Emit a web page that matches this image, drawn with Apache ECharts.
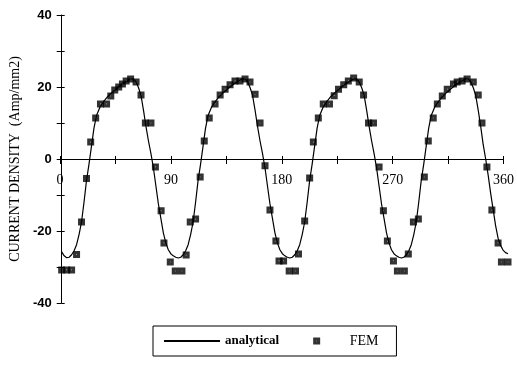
<!DOCTYPE html>
<html><head><meta charset="utf-8">
<script src="https://cdn.jsdelivr.net/npm/echarts@6/dist/echarts.min.js"></script>
<style>html,body{margin:0;padding:0;background:#fff}#c{width:517px;height:367px}</style>
</head><body><div id="c"></div>
<script>
const xTickLabels = [0, 90, 180, 270, 360];
const yTickLabels = [-40, -20, 0, 20, 40];

const lineDeg = [
  0,2,4,6,8,10,12,14,16,18,20,22,24,26,28,31,34,37,40,44,48,52,56,58,60,62,64,66,68,70,72,74,76,78,80,82,84,86,88,
  90,92,94,96,98,100,102,104,106,108,110,112,114,116,118,121,124,127,130,134,138,142,146,148,150,152,154,156,158,160,162,164,166,168,170,172,174,176,178,
  180,182,184,186,188,190,192,194,196,198,200,202,204,206,208,211,214,217,220,224,228,232,236,238,240,242,244,246,248,250,252,254,256,258,260,262,264,266,268,
  270,272,274,276,278,280,282,284,286,288,290,292,294,296,298,301,304,307,310,314,318,322,326,328,330,332,334,336,338,340,342,344,346,348,350,352,354,356,358,360
];
const lineVal = [
  -25.8,-26.9,-27.4,-27.3,-26.6,-25.5,-23.8,-21,-17.5,-12,-6,-1.5,3.5,8.5,12,14.5,16,17.3,18.3,19.5,20.6,21.5,22.3,22.2,21.4,19.8,17.6,13.5,9,5,1.5,-2.5,-7.5,-12.5,-16.5,-20.5,-23.3,-25.2,-26.3,
  -26.9,-27.3,-27.5,-27.3,-26.6,-25.5,-23.8,-21,-17.5,-12,-6,-1.5,3.5,8.5,12,14.5,16,17.3,18.3,19.5,20.6,21.5,22.3,22.2,21.4,19.8,17.6,13.5,9,5,1.5,-2.5,-7.5,-12.5,-16.5,-20.5,-23.3,-25.2,-26.3,
  -26.9,-27.3,-27.5,-27.3,-26.6,-25.5,-23.8,-21,-17.5,-12,-6,-1.5,3.5,8.5,12,14.5,16,17.3,18.3,19.5,20.6,21.5,22.3,22.2,21.4,19.8,17.6,13.5,9,5,1.5,-2.5,-7.5,-12.5,-16.5,-20.5,-23.3,-25.2,-26.3,
  -26.9,-27.3,-27.5,-27.3,-26.6,-25.5,-23.8,-21,-17.5,-12,-6,-1.5,3.5,8.5,12,14.5,16,17.3,18.3,19.5,20.6,21.5,22.3,22.2,21.4,19.8,17.6,13.5,9,4,0,-4.5,-9.5,-14,-18.5,-22,-24,-25.3,-26,-26.3
];

const femDeg = [
  0,4,8,12,16,20,23.4,27.4,31.3,36.2,39.6,42.8,46,49,52,55.6,60,64,67.5,72,75.6,80.2,82.5,87.6,91.6,97,100.4,
  103.7,108,111.7,115,119,123.7,127.8,131.8,135.8,139.8,143.8,147.9,151.9,156,160,164,168,172.8,175.3,179,183.5,188.6,191,
  196,200,203,207,211,216,219.8,223.3,227.5,231.2,235.5,240,243.5,247.5,251.5,256,259.5,262.7,267.6,270.8,276.4,279.6,
  283.7,287.7,292.5,295.7,299.7,303,307,311,316,319,323,327,332,336,339,343,347,352,354.7,360
];
const femVal = [
  -30.8,-30.8,-30.8,-26.5,-17.5,-5.4,4.7,11.4,15.3,15.3,17.5,19.2,20,20.8,21.7,22.2,21.4,17.8,10,10,-2.2,-14.4,-23.3,-28.6,-31.1,-31.1,-26.7,
  -17.5,-16.7,-5,5,11.4,15.3,17.8,19.4,20.6,21.7,21.7,22.2,21.4,18,10,-1.9,-14.2,-22.8,-28.3,-28.3,-31.1,-31.1,-26.4,
  -17.2,-5.3,4.7,11.4,15.3,15.3,17.6,19.4,20.6,21.7,22.5,21.4,17.8,10,10,-2.2,-14.4,-22.8,-28.3,-31.1,-31.1,-26.4,
  -17.5,-16.7,-5,5,11.4,15.3,17.5,19.4,20.8,21.4,21.7,22.2,21.4,17.8,10,-2.2,-14.2,-23.3,-28.6,-28.6
];

const analyticalData = lineDeg.map((d, i) => [d, lineVal[i]]);
const femData = femDeg.map((d, i) => [d, femVal[i]]);

const markerPath = 'path://M0,0H11V11H0Z M5,5V6H6V5Z';
const serif = 'Liberation Serif';
const sans = 'Liberation Sans';

const chart = echarts.init(document.getElementById('c'), null, {renderer: 'canvas'});
chart.setOption({
  animation: false,
  backgroundColor: '#fff',
  grid: [
    {left: 60, right: 9, top: 15, bottom: 64, containLabel: false},
    // second grid whose bottom edge is the y = 0 line of the first grid: carries the visible x axis
    {left: 60, right: 9, top: 15, bottom: 208, containLabel: false}
  ],
  xAxis: [
    {
      gridIndex: 0, type: 'value', min: 0, max: 360, interval: 45, show: false
    },
    {
      gridIndex: 1, type: 'value', min: 0, max: 360, interval: 45, position: 'bottom',
      axisLine: {show: true, onZero: false, lineStyle: {color: '#000', width: 1}},
      axisTick: {show: true, inside: false, length: 5, lineStyle: {color: '#000', width: 1}},
      axisLabel: {
        margin: 14, color: '#000', fontFamily: serif, fontSize: 14,
        showMinLabel: true, showMaxLabel: true,
        formatter: v => xTickLabels.includes(v) ? String(v) : ''
      },
      splitLine: {show: false}
    },
    {
      gridIndex: 1, type: 'value', min: 0, max: 360, interval: 45, position: 'bottom', offset: 0,
      axisLine: {show: false, onZero: false},
      axisTick: {show: true, inside: true, length: 3, lineStyle: {color: '#000', width: 1}},
      axisLabel: {show: false},
      splitLine: {show: false}
    }
  ],
  yAxis: [
    {
      gridIndex: 0, type: 'value', min: -40, max: 40, interval: 10, position: 'left',
      axisLine: {show: true, onZero: false, lineStyle: {color: '#000', width: 1}},
      axisTick: {show: true, inside: false, length: 5, lineStyle: {color: '#000', width: 1}},
      axisLabel: {
        margin: 10, color: '#000', fontFamily: sans, fontWeight: 'bold', fontSize: 13,
        formatter: v => yTickLabels.includes(v) ? String(v) : ''
      },
      splitLine: {show: false},
      name: 'CURRENT DENSITY  (Amp/mm2)',
      nameLocation: 'middle',
      nameRotate: 90,
      nameGap: 38,
      nameTextStyle: {color: '#000', fontFamily: serif, fontSize: 14}
    },
    {
      gridIndex: 0, type: 'value', min: -40, max: 40, interval: 10, position: 'left', offset: 0,
      axisLine: {show: false, onZero: false},
      axisTick: {show: true, inside: true, length: 3, lineStyle: {color: '#000', width: 1}},
      axisLabel: {show: false},
      splitLine: {show: false}
    },
    {
      gridIndex: 1, type: 'value', min: 0, max: 1, show: false
    }
  ],
  legend: {
    left: 153, top: 326, orient: 'horizontal',
    borderColor: '#000', borderWidth: 1,
    padding: [8, 18, 8, 10],
    itemGap: 34, itemWidth: 56, itemHeight: 7,
    selectedMode: false,
    textStyle: {fontFamily: serif, fontSize: 13, color: '#000'},
    data: [
      {name: 'analytical', textStyle: {fontWeight: 'bold'}, itemStyle: {color: 'rgba(0,0,0,0)', borderWidth: 0}},
      {name: 'FEM', textStyle: {fontSize: 14}}
    ]
  },
  series: [
    {
      name: 'analytical', type: 'line', xAxisIndex: 0, yAxisIndex: 0,
      data: analyticalData, symbol: 'none', showSymbol: false, smooth: false,
      lineStyle: {color: '#000', width: 1.2},
      itemStyle: {color: '#000'}
    },
    {
      name: 'FEM', type: 'scatter', xAxisIndex: 0, yAxisIndex: 0,
      data: femData, symbol: markerPath, symbolSize: 7, clip: false,
      itemStyle: {color: '#000'}
    }
  ]
});
</script>
</body></html>
